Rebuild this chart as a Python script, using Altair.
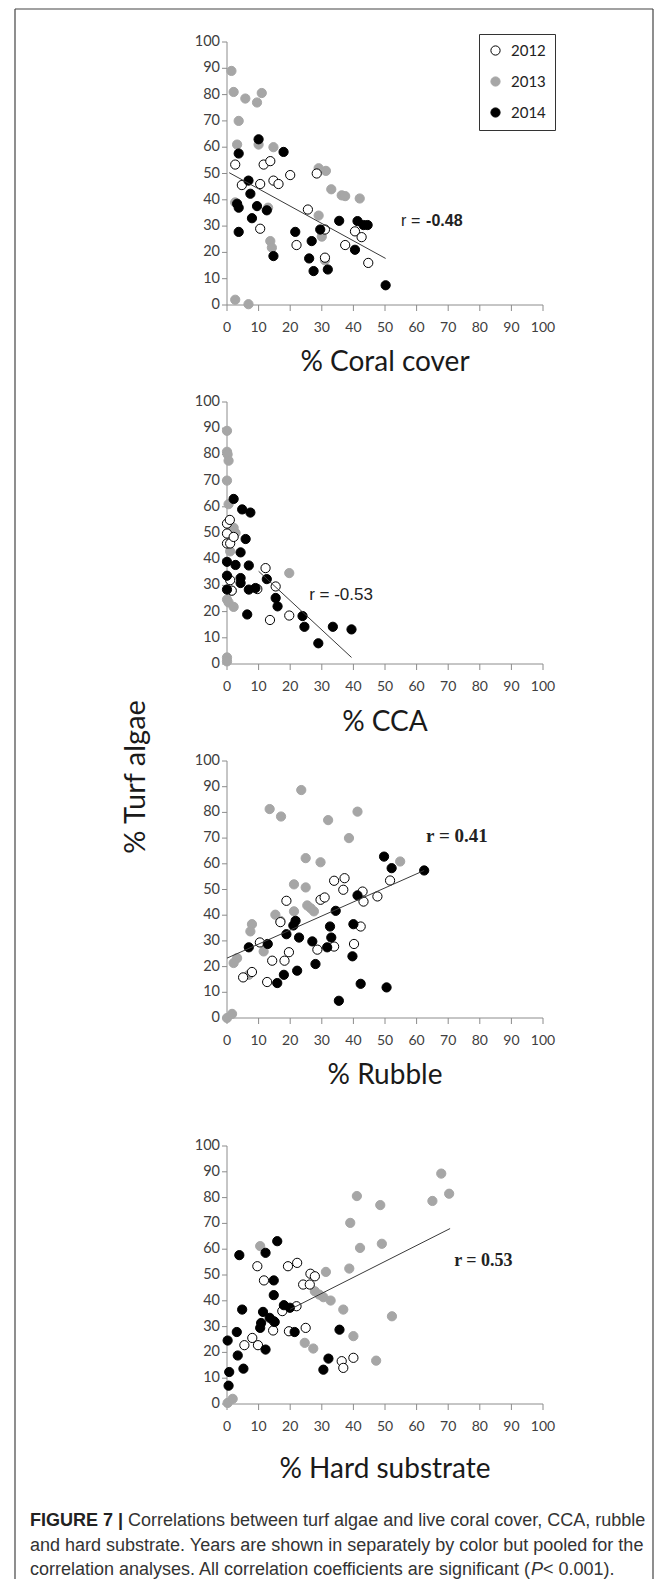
import altair as alt
import pandas as pd

YEARS = ["2012", "2013", "2014"]
TICKS = list(range(0, 101, 10))
TICK_LABELS = [str(v) for v in TICKS]

# ---------------- Panel 1: % Coral cover ----------------
coral_2013_x = [1.4, 2.1, 5.8, 9.5, 11, 3.7, 3.2, 10, 14.7, 29, 31.3, 33, 36.3, 37.4, 42, 13.7, 14.2, 29, 30, 31, 2.6, 6.8, 2.6, 13]
coral_2013_y = [89, 81, 78.5, 77, 80.6, 70, 61, 61, 60, 52, 51, 44, 41.7, 41.4, 40.5, 24.3, 21.8, 34, 26, 17, 2, 0.3, 39, 37]
coral_2012_x = [2.6, 4.7, 10.5, 11.6, 13.7, 14.7, 16.3, 20, 10.5, 22, 25.6, 28.4, 31, 31, 37.4, 40.5, 42.6, 44.7]
coral_2012_y = [53.4, 45.6, 46, 53.4, 54.7, 47.3, 46, 49.4, 29, 22.8, 36.3, 50, 28.7, 18, 22.8, 28, 25.8, 16]
coral_2014_x = [3.7, 10, 17.9, 6.8, 7.4, 3.2, 3.7, 9.5, 12.6, 7.9, 3.7, 14.7, 21.6, 26.8, 26, 27.4, 31.9, 29.5, 35.5, 41.3, 43.2, 44.5, 40.5, 50.2]
coral_2014_y = [57.6, 63, 58.2, 47.3, 42.3, 38.5, 37, 37.6, 36, 33, 27.8, 18.6, 27.8, 24.3, 17.7, 12.9, 13.5, 28.7, 32, 31.9, 30.4, 30.4, 21, 7.5]
coral_fit_x = [0.7, 50.2]
coral_fit_y = [50.3, 17.7]

# ---------------- Panel 2: % CCA ----------------
cca_2013_x = [0, 0, 0.2, 0.5, 0, 0.5, 1, 2.1, 2.7, 1, 19.7, 0, 0.5, 2.1, 0, 0, 1.5]
cca_2013_y = [89, 81, 80, 77.6, 70, 61, 53, 52, 50, 43, 34.7, 24.6, 23.5, 21.8, 2.5, 1, 28]
cca_2012_x = [0, 0.9, 0, 0, 1, 2.1, 1, 1.5, 12.2, 15.4, 9.6, 13.6, 19.7]
cca_2012_y = [53.6, 55, 49.8, 46, 46, 48.5, 32, 28, 36.6, 29.6, 28.6, 16.8, 18.5]
cca_2014_x = [2.1, 4.8, 7.4, 5.9, 4.3, 0, 2.7, 6.9, 0, 4.3, 4.3, 0, 6.9, 9, 12.6, 6.4, 15.4, 16, 23.9, 24.5, 28.9, 33.5, 39.4]
cca_2014_y = [63, 59, 57.8, 47.7, 42.6, 39, 37.8, 37.6, 33.7, 32.8, 30.9, 28.4, 28.4, 29, 32.4, 18.9, 25.2, 22, 18.3, 14.2, 7.9, 14.2, 13.2]
cca_fit_x = [10, 39.4]
cca_fit_y = [35.4, 2.5]

# ---------------- Panel 3: % Rubble ----------------
rub_2013_x = [23.5, 13.5, 17.1, 32, 41.3, 38.6, 24.9, 29.6, 54.8, 21.2, 24.9, 25.4, 26.5, 27.5, 21.2, 15.3, 7.9, 7.4, 16.9, 11.6, 3.2, 2.1, 0, 1.6, 6.9]
rub_2013_y = [88.7, 81.3, 78.4, 77, 80.3, 70, 62.2, 60.6, 60.9, 52, 50.8, 43.8, 42.7, 41.5, 41.5, 40.2, 36.5, 33.7, 37.8, 25.9, 23.3, 21.4, 0, 1.6, 16.8]
rub_2012_x = [18.8, 16.9, 10.4, 14.3, 12.7, 5.1, 7.9, 19.6, 18.2, 29.6, 30.9, 33.9, 37.2, 36.8, 42.9, 43.2, 47.6, 51.6, 42.3, 40.2, 33.9, 28.6]
rub_2012_y = [45.6, 37.3, 29.4, 22.3, 14, 15.8, 17.9, 25.6, 22.3, 46, 46.9, 53.4, 54.4, 49.9, 49.2, 45.3, 47.3, 53.5, 35.6, 28.8, 27.8, 26.6]
rub_2014_x = [49.7, 52.1, 62.4, 41.3, 34.4, 21.7, 18.8, 22.8, 27, 32.6, 33, 31.7, 40, 39.7, 28, 22.2, 18, 15.9, 12.9, 6.9, 42.3, 50.5, 35.4, 21]
rub_2014_y = [62.8, 58.3, 57.4, 47.7, 41.7, 37.8, 32.6, 31.3, 29.8, 35.6, 31.3, 27.5, 36.5, 24, 21, 18.4, 16.8, 13.6, 28.8, 27.5, 13.3, 11.9, 6.7, 36]
rub_fit_x = [0, 62.4]
rub_fit_y = [23.3, 57.4]

# ---------------- Panel 4: % Hard substrate ----------------
hard_2013_x = [67.8, 70.3, 65, 41.1, 48.5, 39, 42.1, 49, 10.5, 31.3, 38.7, 27.8, 29.2, 30.5, 32.8, 36.8, 52.2, 40, 24.6, 27.3, 47.2, 0.2, 1.8]
hard_2013_y = [89.3, 81.5, 78.7, 80.6, 77.1, 70.2, 60.5, 62.1, 61.2, 51.2, 52.5, 43.7, 42.4, 41.4, 40.1, 36.6, 34, 26.3, 23.7, 21.5, 16.8, 0.4, 2]
hard_2012_x = [9.6, 11.7, 19.3, 22.2, 26.4, 27.8, 24.1, 26.2, 22, 17.5, 14.8, 14.6, 19.6, 24.9, 8, 5.5, 9.8, 36.3, 36.8, 40]
hard_2012_y = [53.4, 47.9, 53.4, 54.7, 50.5, 49.5, 46.3, 46.3, 37.9, 36, 32.1, 28.5, 28.2, 29.5, 25.6, 22.8, 22.8, 16.6, 14, 17.9]
hard_2014_x = [15.9, 12.2, 3.9, 14.8, 14.8, 4.8, 11.4, 18, 19.9, 13.5, 15.1, 10.8, 10.5, 3.1, 0.2, 21.4, 12.2, 3.4, 5.2, 0.7, 0.5, 35.6, 32.1, 30.5]
hard_2014_y = [63.1, 58.6, 57.7, 47.9, 42.2, 36.6, 35.7, 38.3, 37.3, 33.4, 31.8, 31.4, 29.5, 27.9, 24.6, 27.9, 21.1, 18.8, 13.7, 12.4, 7.1, 28.8, 17.6, 13.3]
hard_fit_x = [20, 70.6]
hard_fit_y = [36.7, 68]

X_TITLES = ["% Coral cover", "% CCA", "% Rubble", "% Hard substrate"]
Y_TITLE = "% Turf algae"
R_LABELS = ["r = ", "-0.48", "r = -0.53", "r = 0.41", "r = 0.53"]
CAPTION_BOLD = "FIGURE 7 |"
CAPTION_1 = "Correlations between turf algae and live coral cover, CCA, rubble"
CAPTION_2 = "and hard substrate. Years are shown in separately by color but pooled for the"
CAPTION_3A = "correlation analyses. All correlation coefficients are significant ("
CAPTION_3B = "P"
CAPTION_3C = " < 0.001)."

FONT = "Lato"
AXIS_GRAY = "#8c8c8c"
LABEL_COLOR = "#404040"
TITLE_COLOR = "#1a1a1a"
NOVIEW = alt.ViewBackground(stroke="transparent", strokeWidth=0)

fill_scale = alt.Scale(domain=YEARS, range=["#ffffff", "#a6a6a6", "#000000"])
stroke_scale = alt.Scale(domain=YEARS, range=["#000000", "#a6a6a6", "#000000"])
one = pd.DataFrame({"a": [0]})
ticks_df = pd.DataFrame({"v": TICKS, "lab": TICK_LABELS})


def points_df(d):
    rows = []
    for yr in ["2013", "2012", "2014"]:
        xs, ys = d[yr]
        for a, b in zip(xs, ys):
            rows.append({"x": a, "y": b, "year": yr})
    return pd.DataFrame(rows)


def txt(s, x, y, **kw):
    return alt.Chart(pd.DataFrame({"t": [s]})).mark_text(**kw).encode(
        x=alt.value(x), y=alt.value(y), text="t:N")


def panel(d, fit_x, fit_y, title, h, ymax, title_off, labels, show_legend, extra=()):
    XS = alt.Scale(domain=[0, 100], nice=False, zero=False)
    YS = alt.Scale(domain=[0, ymax], nice=False, zero=False)
    X = lambda f: alt.X(f, type="quantitative", scale=XS, axis=None)
    Y = lambda f: alt.Y(f, type="quantitative", scale=YS, axis=None)
    if show_legend:
        leg = alt.Legend(orient="none", legendX=252, legendY=-8, title=None,
                         strokeColor="#333333", padding=9, rowPadding=15,
                         symbolSize=85, symbolStrokeWidth=1, symbolType="circle",
                         labelFont=FONT, labelFontSize=15, labelColor="#222222",
                         labelOffset=8)
    else:
        leg = None
    # hand-built axes: domain lines, ticks and tick labels drawn through the scales
    xdom = alt.Chart(pd.DataFrame({"a": [0], "b": [100]})).mark_rule(
        color=AXIS_GRAY, strokeWidth=1).encode(x=X("a"), x2="b", y=alt.value(h))
    ydom = alt.Chart(pd.DataFrame({"a": [0], "b": [100]})).mark_rule(
        color=AXIS_GRAY, strokeWidth=1).encode(y=Y("a"), y2="b", x=alt.value(0))
    xtk = alt.Chart(ticks_df).mark_rule(color=AXIS_GRAY, strokeWidth=1).encode(
        x=X("v"), y=alt.value(h), y2=alt.value(h + 6))
    ytk = alt.Chart(ticks_df).mark_rule(color=AXIS_GRAY, strokeWidth=1).encode(
        y=Y("v"), x=alt.value(-5), x2=alt.value(0))
    xlab = alt.Chart(ticks_df).mark_text(
        font=FONT, fontSize=14, color=LABEL_COLOR, align="center", baseline="middle").encode(
        x=X("v"), y=alt.value(h + 23), text="lab:N")
    ylab = alt.Chart(ticks_df).mark_text(
        font=FONT, fontSize=14.5, color=LABEL_COLOR, align="right", baseline="middle").encode(
        y=Y("v"), x=alt.value(-7), text="lab:N")
    xtitle = txt(title, 158, h + title_off, align="center", baseline="middle",
                 font=FONT, fontSize=28, color=TITLE_COLOR)
    pts = alt.Chart(points_df(d)).mark_circle(size=85, opacity=1, strokeWidth=1).encode(
        x=X("x"), y=Y("y"),
        fill=alt.Fill("year:N", scale=fill_scale, legend=leg),
        stroke=alt.Stroke("year:N", scale=stroke_scale, legend=leg),
    )
    fit = alt.Chart(pd.DataFrame({"x": fit_x, "y": fit_y})).mark_line(
        color="#3a3a3a", strokeWidth=1).encode(x=X("x"), y=Y("y"))
    layers = [xdom, ydom, xtk, ytk, xlab, ylab, xtitle, pts, fit]
    for (tx, ty, t, font, weight, size) in labels:
        layers.append(
            alt.Chart(pd.DataFrame({"x": [tx], "y": [ty], "t": [t]})).mark_text(
                align="left", baseline="middle", font=font, fontWeight=weight,
                fontSize=size, color="#222222").encode(x=X("x"), y=Y("y"), text="t:N"))
    layers.extend(extra)
    return alt.layer(*layers).properties(width=316, height=h, view=NOVIEW)


# ------- figure frame, shared y title and caption (pixel offsets from panel 1's plot) -------
FL, FT, FR, FB = -212, -33, 426, 1537
border_color = "#444444"
b_left = alt.Chart(one).mark_rule(color=border_color, strokeWidth=1.2).encode(
    x=alt.value(FL), y=alt.value(FT), y2=alt.value(FB))
b_top = alt.Chart(one).mark_rule(color=border_color, strokeWidth=1.2).encode(
    x=alt.value(FL), x2=alt.value(FR), y=alt.value(FT))
b_right = alt.Chart(one).mark_rule(color=border_color, strokeWidth=1.2).encode(
    x=alt.value(FR), y=alt.value(FT), y2=alt.value(FB))
ytitle = txt(Y_TITLE, -91, 735, angle=270, align="center", baseline="middle",
             font=FONT, fontSize=29, color=TITLE_COLOR)
CAP_FONT = "Liberation Sans"
CAP_SIZE = 18.0
cap_color = "#333333"
L1, L2, L3 = 1479, 1504, 1528
c0 = txt(CAPTION_BOLD, -197, L1, align="left", baseline="middle", font=CAP_FONT,
         fontSize=CAP_SIZE, fontWeight="bold", color="#222222")
c1 = txt(CAPTION_1, -99, L1, align="left", baseline="middle", font=CAP_FONT,
         fontSize=CAP_SIZE, color=cap_color)
c2 = txt(CAPTION_2, -197, L2, align="left", baseline="middle", font=CAP_FONT,
         fontSize=CAP_SIZE, color=cap_color)
c3a = txt(CAPTION_3A, -197, L3, align="left", baseline="middle", font=CAP_FONT,
          fontSize=CAP_SIZE, color=cap_color)
c3b = txt(CAPTION_3B, 304, L3, align="left", baseline="middle", font=CAP_FONT,
          fontSize=CAP_SIZE, fontStyle="italic", color=cap_color)
c3c = txt(CAPTION_3C, 316, L3, align="left", baseline="middle", font=CAP_FONT,
          fontSize=CAP_SIZE, color=cap_color)
frame_layers = [b_left, b_top, b_right, ytitle, c0, c1, c2, c3a, c3b, c3c]

p1 = panel({"2012": (coral_2012_x, coral_2012_y), "2013": (coral_2013_x, coral_2013_y),
            "2014": (coral_2014_x, coral_2014_y)}, coral_fit_x, coral_fit_y,
           X_TITLES[0], 263, 100, 58,
           [(55.1, 32, R_LABELS[0], "Liberation Sans", "normal", 16),
            (63, 32, R_LABELS[1], "Liberation Sans", "bold", 16)], True,
           extra=frame_layers)
p2 = panel({"2012": (cca_2012_x, cca_2012_y), "2013": (cca_2013_x, cca_2013_y),
            "2014": (cca_2014_x, cca_2014_y)}, cca_fit_x, cca_fit_y,
           X_TITLES[1], 262, 100, 59,
           [(26, 26.5, R_LABELS[2], "Liberation Sans", "normal", 17)], False)
p3 = panel({"2012": (rub_2012_x, rub_2012_y), "2013": (rub_2013_x, rub_2013_y),
            "2014": (rub_2014_x, rub_2014_y)}, rub_fit_x, rub_fit_y,
           X_TITLES[2], 257, 100, 58,
           [(63, 71, R_LABELS[3], "Liberation Serif", "bold", 19)], False)
# panel 4 plot sits 31 px lower: its view is 31 px taller, 0..100 occupying the lower 258 px
P4_H = 289
p4 = panel({"2012": (hard_2012_x, hard_2012_y), "2013": (hard_2013_x, hard_2013_y),
            "2014": (hard_2014_x, hard_2014_y)}, hard_fit_x, hard_fit_y,
           X_TITLES[3], P4_H, 100 * P4_H / 258, 66,
           [(71.9, 55.6, R_LABELS[4], "Liberation Serif", "bold", 18)], False)

ind = dict(fill="independent", stroke="independent")
chart = alt.vconcat(p1, p2, p3, p4, spacing=97, bounds="flush").resolve_scale(**ind).properties(
    padding={"left": 6, "top": 0, "right": 0, "bottom": 0}, background="white"
).configure_view(stroke=None)

chart.save("out.html", embed_options={"renderer": "svg", "actions": False})
